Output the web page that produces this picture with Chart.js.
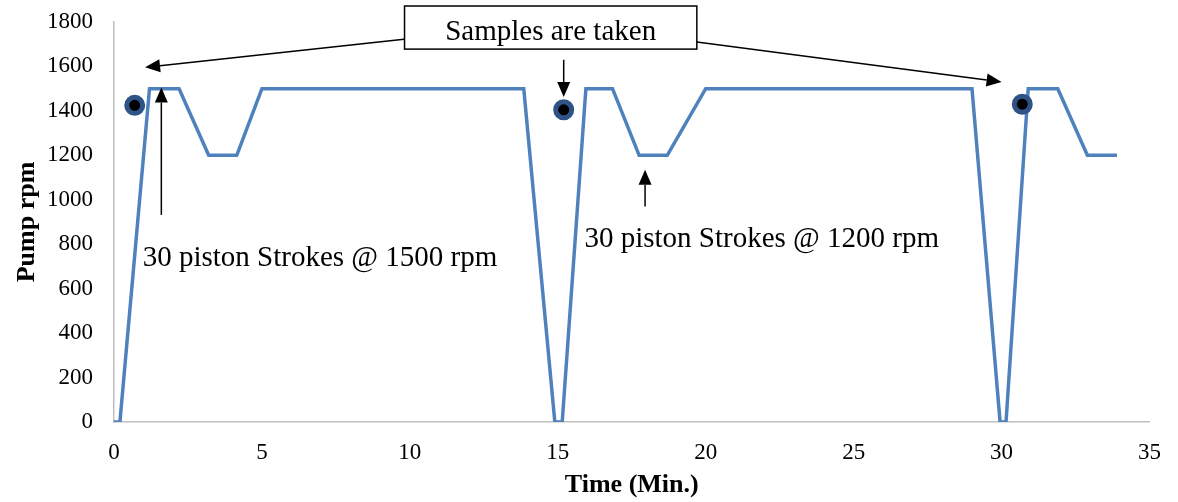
<!DOCTYPE html>
<html>
<head>
<meta charset="utf-8">
<script src="https://cdn.jsdelivr.net/npm/chart.js@4"></script>
<style>
  html, body { margin: 0; padding: 0; background: #fff; }
  #wrap { width: 1178px; height: 502px; }
</style>
</head>
<body>
<div id="wrap"><canvas id="chart" width="1178" height="502"></canvas></div>
<script>
// Pump speed profile (time in minutes, rpm)
const timeMin = [0, 0.2, 1.2, 2.2, 3.2, 4.15, 5.0, 13.85, 14.9, 15.15, 15.95, 16.85, 17.75, 18.7, 20.0, 29.0, 29.95, 30.15, 30.9, 31.9, 32.9, 33.9];
const pumpRpm = [0, 0, 1500, 1500, 1200, 1200, 1500, 1500, 0, 0, 1500, 1500, 1200, 1200, 1500, 1500, 0, 0, 1500, 1500, 1200, 1200];

// Sampling points
const sampleTime = [0.7, 15.2, 30.7];
const sampleRpm = [1425, 1405, 1430];

// Axis ticks
const xTicks = [0, 5, 10, 15, 20, 25, 30, 35];
const yTicks = [0, 200, 400, 600, 800, 1000, 1200, 1400, 1600, 1800];

// Annotations (data units)
const arrows = [
  { from: [9.8, 1722], to: [1.05, 1596] },
  { from: [19.7, 1710], to: [30.0, 1530] },
  { from: [15.2, 1630], to: [15.2, 1462] },
  { from: [1.6, 932], to: [1.6, 1505] },
  { from: [17.95, 970], to: [17.95, 1135] }
];
const notes = [
  { text: "30 piston Strokes @ 1500 rpm", at: [0.97, 738] },
  { text: "30 piston Strokes @ 1200 rpm", at: [15.9, 820] }
];
const boxText = "Samples are taken";
const boxCorners = [[9.82, 1872], [19.7, 1678]];

const serif = "'Liberation Serif', 'Times New Roman', serif";

const annotate = {
  id: "annotate",
  afterDatasetsDraw(chart) {
    const ctx = chart.ctx;
    const xs = chart.scales.x, ys = chart.scales.y;
    const px = v => xs.getPixelForValue(v);
    const py = v => ys.getPixelForValue(v);
    ctx.save();
    ctx.strokeStyle = "#000";
    ctx.fillStyle = "#000";
    ctx.lineWidth = 1.5;
    arrows.forEach(a => {
      const x1 = px(a.from[0]), y1 = py(a.from[1]);
      const x2 = px(a.to[0]), y2 = py(a.to[1]);
      const ang = Math.atan2(y2 - y1, x2 - x1);
      const hl = 15, hw = 6.5;
      const bx = x2 - hl * Math.cos(ang), by = y2 - hl * Math.sin(ang);
      ctx.beginPath();
      ctx.moveTo(x1, y1);
      ctx.lineTo(bx, by);
      ctx.stroke();
      ctx.beginPath();
      ctx.moveTo(x2, y2);
      ctx.lineTo(bx + hw * Math.sin(ang), by - hw * Math.cos(ang));
      ctx.lineTo(bx - hw * Math.sin(ang), by + hw * Math.cos(ang));
      ctx.closePath();
      ctx.fill();
    });
    // text box
    const bx1 = px(boxCorners[0][0]), by1 = py(boxCorners[0][1]);
    const bx2 = px(boxCorners[1][0]), by2 = py(boxCorners[1][1]);
    ctx.fillStyle = "#fff";
    ctx.fillRect(bx1, by1, bx2 - bx1, by2 - by1);
    ctx.strokeRect(bx1, by1, bx2 - bx1, by2 - by1);
    ctx.fillStyle = "#000";
    ctx.font = "29px " + serif;
    ctx.textAlign = "center";
    ctx.textBaseline = "middle";
    ctx.fillText(boxText, (bx1 + bx2) / 2, (by1 + by2) / 2 + 5);
    ctx.textAlign = "left";
    notes.forEach(n => {
      ctx.fillText(n.text, px(n.at[0]), py(n.at[1]));
    });
    ctx.restore();
  }
};

new Chart(document.getElementById("chart"), {
  type: "scatter",
  data: {
    datasets: [
      {
        data: sampleTime.map((t, i) => ({ x: t, y: sampleRpm[i] })),
        pointRadius: 8,
        pointBorderWidth: 5,
        pointBackgroundColor: "#000",
        pointBorderColor: "#2F5287",
        showLine: false,
        order: 0
      },
      {
        data: timeMin.map((t, i) => ({ x: t, y: pumpRpm[i] })),
        showLine: true,
        borderColor: "#4F81BD",
        borderWidth: 3.5,
        pointRadius: 0,
        tension: 0,
        order: 1
      }
    ]
  },
  options: {
    responsive: false,
    animation: false,
    layout: { padding: { top: 22, right: 28, left: 0, bottom: 0 } },
    plugins: { legend: { display: false }, tooltip: { enabled: false } },
    scales: {
      x: {
        type: "linear",
        min: 0, max: 35,
        afterBuildTicks: s => { s.ticks = xTicks.map(v => ({ value: v })); },
        afterFit: s => { s.height = 80; s.paddingTop = 0; s.paddingBottom = 0; },
        grid: { display: false, drawTicks: false },
        border: { color: "#BFBFBF", width: 1.5 },
        ticks: { color: "#000", padding: 17, font: { family: serif, size: 23 }, callback: v => String(v) },
        title: { display: true, text: "Time (Min.)", color: "#000", padding: { top: 0 },
                 font: { family: serif, size: 26, weight: "bold", lineHeight: 1.0 } }
      },
      y: {
        min: 0, max: 1800,
        afterBuildTicks: s => { s.ticks = yTicks.map(v => ({ value: v })); },
        afterFit: s => { s.width = 114; s.paddingTop = 0; s.paddingBottom = 0; },
        grid: { display: false, drawTicks: false },
        border: { color: "#BFBFBF", width: 1.5 },
        ticks: { color: "#000", padding: 21, font: { family: serif, size: 23 }, callback: v => String(v) },
        title: { display: true, text: "Pump rpm", color: "#000", padding: { top: 14 },
                 font: { family: serif, size: 26, weight: "bold", lineHeight: 1.0 } }
      }
    }
  },
  plugins: [annotate]
});
</script>
</body>
</html>
